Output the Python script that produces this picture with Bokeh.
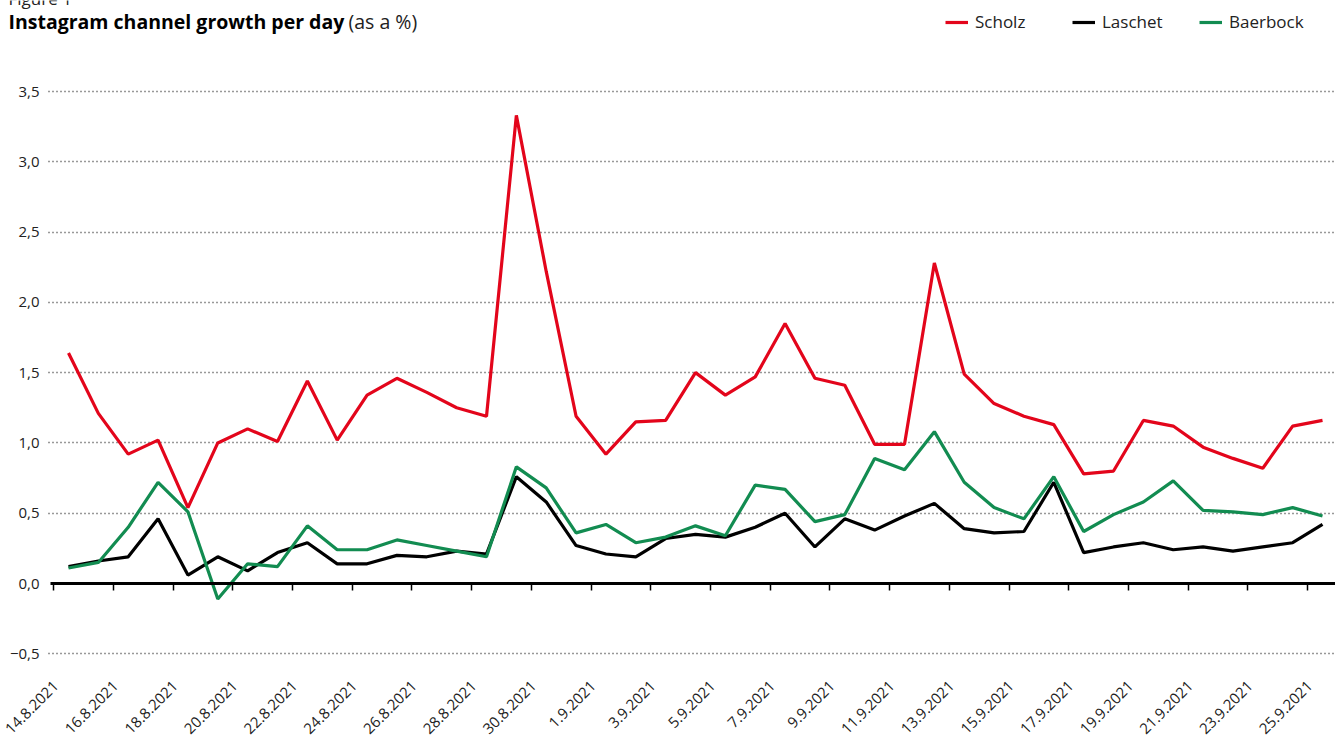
from bokeh.plotting import figure
from bokeh.models import (ColumnDataSource, FixedTicker, LinearAxis, Range1d,
                          Label, Legend, LegendItem, Grid)
from bokeh.embed import file_html
from bokeh.resources import INLINE

dates = ["14.8.2021", "15.8.2021", "16.8.2021", "17.8.2021", "18.8.2021", "19.8.2021",
         "20.8.2021", "21.8.2021", "22.8.2021", "23.8.2021", "24.8.2021", "25.8.2021",
         "26.8.2021", "27.8.2021", "28.8.2021", "29.8.2021", "30.8.2021", "31.8.2021",
         "1.9.2021", "2.9.2021", "3.9.2021", "4.9.2021", "5.9.2021", "6.9.2021",
         "7.9.2021", "8.9.2021", "9.9.2021", "10.9.2021", "11.9.2021", "12.9.2021",
         "13.9.2021", "14.9.2021", "15.9.2021", "16.9.2021", "17.9.2021", "18.9.2021",
         "19.9.2021", "20.9.2021", "21.9.2021", "22.9.2021", "23.9.2021", "24.9.2021",
         "25.9.2021"]

scholz = [1.64, 1.21, 0.92, 1.02, 0.54, 1.00, 1.10, 1.01, 1.44, 1.02, 1.34, 1.46, 1.36,
          1.25, 1.19, 3.33, 2.22, 1.19, 0.92, 1.15, 1.16, 1.50, 1.34, 1.47, 1.85, 1.46,
          1.41, 0.99, 0.99, 2.28, 1.49, 1.28, 1.19, 1.13, 0.78, 0.80, 1.16, 1.12, 0.97,
          0.89, 0.82, 1.12, 1.16]
laschet = [0.12, 0.16, 0.19, 0.46, 0.06, 0.19, 0.09, 0.22, 0.29, 0.14, 0.14, 0.20, 0.19,
           0.23, 0.21, 0.76, 0.58, 0.27, 0.21, 0.19, 0.32, 0.35, 0.33, 0.40, 0.50, 0.26,
           0.46, 0.38, 0.48, 0.57, 0.39, 0.36, 0.37, 0.72, 0.22, 0.26, 0.29, 0.24, 0.26,
           0.23, 0.26, 0.29, 0.42]
baerbock = [0.11, 0.15, 0.40, 0.72, 0.51, -0.11, 0.14, 0.12, 0.41, 0.24, 0.24, 0.31, 0.27,
            0.23, 0.19, 0.83, 0.68, 0.36, 0.42, 0.29, 0.33, 0.41, 0.34, 0.70, 0.67, 0.44,
            0.49, 0.89, 0.81, 1.08, 0.72, 0.54, 0.46, 0.76, 0.37, 0.49, 0.58, 0.73, 0.52,
            0.51, 0.49, 0.54, 0.48]

series_names = ["Scholz", "Laschet", "Baerbock"]
series_colors = ["#E3051B", "#000000", "#128C51"]

y_ticks = [-0.5, 0, 0.5, 1, 1.5, 2, 2.5, 3, 3.5]
y_tick_labels = ["\u22120,5", "0,0", "0,5", "1,0", "1,5", "2,0", "2,5", "3,0", "3,5"]

FONT = "Open Sans"
W, H = 1335, 735

idx = list(range(len(dates)))
source = ColumnDataSource(dict(x=idx, scholz=scholz, laschet=laschet, baerbock=baerbock))

X0, X1 = -2.2775, 42.435
Y0, Y1 = -1.0813, 4.1474
Y_AXIS_AT = -0.67
LABEL_AXIS_AT = -0.626

p = figure(width=W, height=H,
           x_range=Range1d(X0, X1), y_range=Range1d(Y0, Y1),
           output_backend="svg", toolbar_location=None,
           min_border_left=0, min_border_right=0, min_border_top=0, min_border_bottom=0,
           outline_line_color=None, background_fill_color="white")

# grid
p.xgrid.visible = False
p.ygrid.ticker = FixedTicker(ticks=[t for t in y_ticks if t != 0])
p.ygrid.grid_line_color = "#333333"
p.ygrid.grid_line_dash = "1 3"
p.ygrid.grid_line_width = 1.3
if "cross_bounds" in Grid.properties():
    p.ygrid.cross_bounds = (Y_AXIS_AT, X1)

# lines
renderers = []
for key, col in zip(["scholz", "laschet", "baerbock"], series_colors):
    r = p.line("x", key, source=source, line_color=col, line_width=3.2)
    renderers.append(r)

# x axis labels (placed below the plotting area)
label_pos = [i - 0.42 for i in idx[::2]]
xa = p.xaxis[0]
xa.fixed_location = LABEL_AXIS_AT
xa.ticker = FixedTicker(ticks=label_pos)
xa.major_label_overrides = {t: dates[i] for t, i in zip(label_pos, idx[::2])}
xa.major_label_orientation = 0.785398
xa.axis_line_color = None
xa.major_tick_line_color = None
xa.minor_tick_line_color = None
xa.major_label_text_font = FONT
xa.major_label_text_font_size = "15px"
xa.major_label_text_color = "#222222"
xa.major_label_standoff = 6

# zero axis with ticks at category boundaries
bound_pos = [i - 0.5 for i in idx[::2]]
zax = LinearAxis(fixed_location=0, bounds=(-0.6, X1),
                 ticker=FixedTicker(ticks=bound_pos),
                 major_label_overrides={t: "" for t in bound_pos},
                 major_label_standoff=0,
                 axis_line_color="black", axis_line_width=3,
                 major_tick_in=7, major_tick_out=0, major_tick_line_width=1.5,
                 major_tick_line_color="black", minor_tick_line_color=None)
p.add_layout(zax, "above")

# y axis
ya = p.yaxis[0]
ya.fixed_location = Y_AXIS_AT
ya.ticker = FixedTicker(ticks=y_ticks)
ya.major_label_overrides = dict(zip(y_ticks, y_tick_labels))
ya.axis_line_color = None
ya.major_tick_line_color = None
ya.minor_tick_line_color = None
ya.major_label_text_font = FONT
ya.major_label_text_font_size = "15px"
ya.major_label_text_color = "#222222"
ya.major_label_standoff = 3

# legend (location = bottom-left corner, measured from the frame's bottom-left)
legend = Legend(items=[LegendItem(label=n, renderers=[r]) for n, r in zip(series_names, renderers)],
                orientation="horizontal", location=(945, H - 33),
                border_line_color=None, background_fill_alpha=0,
                padding=0, margin=0, spacing=7, glyph_width=23, glyph_height=20,
                label_height=20, label_width=90, label_standoff=7, label_text_font=FONT,
                label_text_font_size="17px", label_text_color="#222222")
p.add_layout(legend, "center")

# titles
p.add_layout(Label(x=8, y=H + 2, x_units="screen", y_units="screen",
                   text="Figure 1", text_font=FONT, text_font_size="17px",
                   text_color="#222222", text_baseline="alphabetic"))
p.add_layout(Label(x=8, y=H - 21, x_units="screen", y_units="screen",
                   text="Instagram channel growth per day", text_font=FONT,
                   text_font_style="bold", text_font_size="19.5px", text_color="black",
                   text_baseline="alphabetic"))
p.add_layout(Label(x=348, y=H - 21, x_units="screen", y_units="screen",
                   text="(as a %)", text_font=FONT, text_font_size="19.5px",
                   text_color="#222222", text_baseline="alphabetic"))

open("out.html", "w").write(file_html(p, INLINE))
